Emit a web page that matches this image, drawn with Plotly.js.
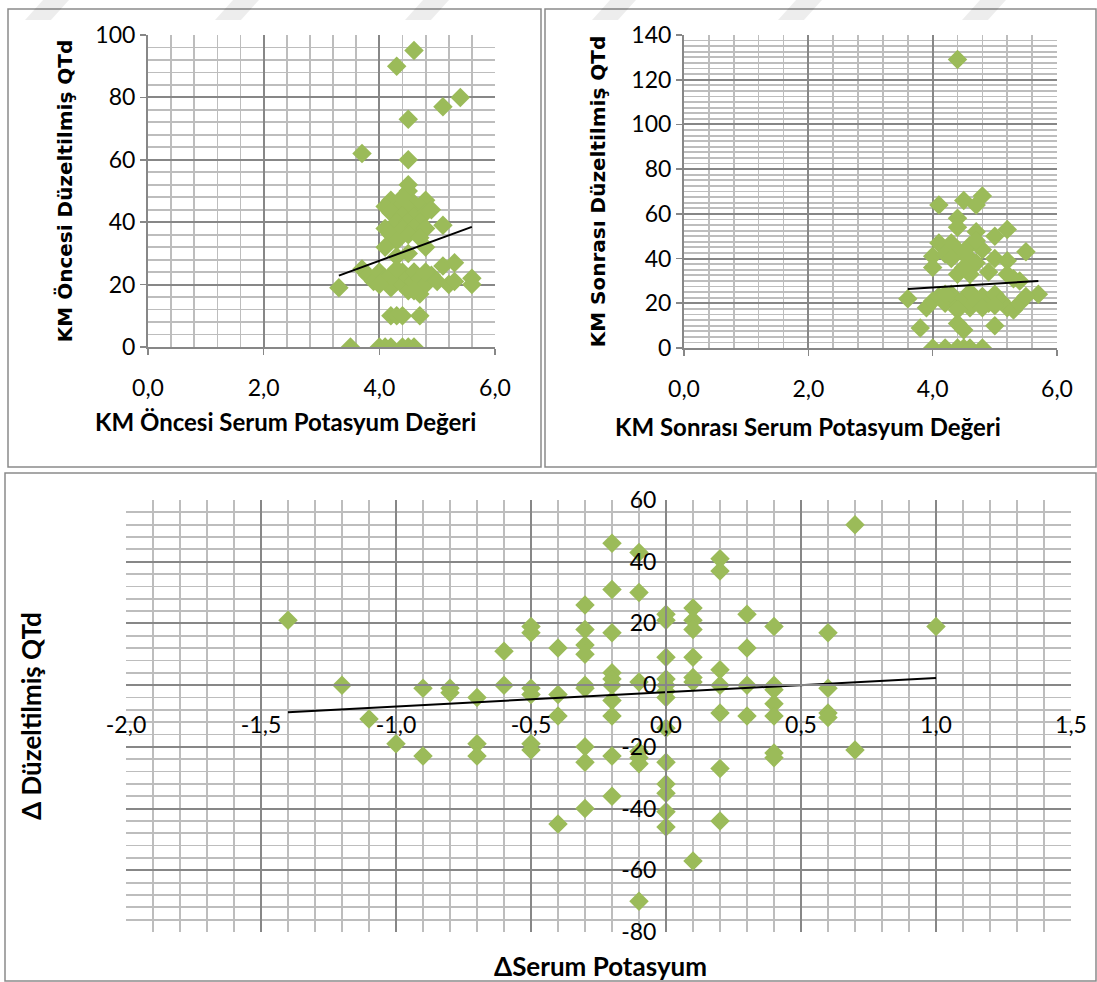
<!DOCTYPE html>
<html><head><meta charset="utf-8">
<script src="https://cdn.plot.ly/plotly-3.0.1.min.js"></script>
<style>html,body{margin:0;padding:0;background:#fff}#chart{width:1097px;height:982px}</style>
</head><body><div id="chart"></div>
<script>
// ---------- DATA ----------
// KM öncesi: serum potasyum vs düzeltilmiş QTd
const preK = [4.6,4.3,5.4,5.1,4.5,3.7,4.5,4.5,4.5,
  4.2,4.8,4.1,4.3,4.4,4.6,4.7,4.5,4.2,4.4,4.6,4.8,4.3,4.5,4.7,4.1,4.4,4.6,4.8,4.2,4.5,4.7,4.3,5.1,4.9,4.4,
  4.1,4.8,4.5,4.3,
  3.7,5.1,5.3,3.3,3.8,3.9,4.0,4.1,4.2,4.2,4.3,4.4,4.4,4.5,4.5,4.6,4.6,4.7,4.7,4.8,4.9,5.0,5.2,5.3,5.6,5.6,4.0,4.3,4.6,4.8,
  4.2,4.3,4.4,4.7,
  3.5,4.0,4.1,4.2,4.4,4.5,4.6];
const preQTd = [95,90,80,77,73,62,60,52,50,
  47,47,45,45,46,46,45,44,43,42,42,43,40,40,40,38,38,38,38,36,36,35,34,39,44,48,
  32,32,30,29,
  25,26,27,19,23,21,24,22,19,23,21,24,20,22,18,21,24,17,22,20,23,21,20,21,22,20,20,25,18,24,
  10,10,10,10,
  0,0,0,0,0,0,0];
const preTrend = {slope: 6.8, intercept: 0.43};

// KM sonrası
const postK = [4.4,4.1,4.5,4.8,4.7,4.4,4.4,5.2,5.0,4.7,5.5,4.1,4.3,4.0,4.0,4.4,4.6,4.6,4.8,4.5,4.2,4.7,5.0,5.2,4.4,4.6,4.9,5.2,5.4,5.3,4.5,4.7,4.3,
  3.6,5.7,3.9,4.0,4.1,4.2,4.3,4.4,4.5,4.6,4.6,4.7,4.8,4.9,5.0,5.1,5.2,5.3,5.4,5.5,4.4,4.8,4.2,5.0,
  3.8,4.4,4.5,5.0,
  4.0,4.2,4.4,4.5,4.6,4.8];
const postQTd = [129,64,66,68,64,58,54,53,50,52,43,47,47,41,36,44,46,40,44,42,42,38,40,39,33,33,34,33,30,31,36,48,40,
  22,24,18,21,23,20,24,19,22,25,18,21,23,20,24,21,18,17,20,23,17,18,24,19,
  9,11,8,10,
  0,0,0,0,0,0];
const postTrend = {slope: 1.7, intercept: 20.3};

// Δ değerler
const deltaK = [-1.4,-1.2,-1.1,-1.0,-0.9,-0.9,-0.8,-0.8,-0.7,-0.7,-0.7,-0.6,-0.6,
  -0.5,-0.5,-0.5,-0.5,-0.5,-0.5,-0.4,-0.4,-0.4,-0.4,
  -0.3,-0.3,-0.3,-0.3,-0.3,-0.3,-0.3,-0.3,-0.3,
  -0.2,-0.2,-0.2,-0.2,-0.2,-0.2,-0.2,-0.2,-0.2,-0.2,
  -0.1,-0.1,-0.1,-0.1,-0.1,-0.1,-0.1,
  0,0,0,0,0,0,0,0,0,0,0,0,0,
  0.1,0.1,0.1,0.1,0.1,0.1,0.1,
  0.2,0.2,0.2,0.2,0.2,0.2,0.2,
  0.3,0.3,0.3,0.3,
  0.4,0.4,0.4,0.4,0.4,0.4,0.4,
  0.6,0.6,0.6,0.6,0.7,0.7,1.0];
const deltaQTd = [21,0,-11,-19,-1,-23,-1,-2.5,-4,-19,-23,11,0,
  19,17,-1,-3,-19,-21,12,-3,-10,-45,
  26,18,13,10,0,-20,-25,-40,-1,
  46,31,17,4,2,0,-5,-10,-23,-36,
  43,30,1,-21.5,-23.5,-25.5,-70,
  23,21,9,2,0,-2,-4,-14,-25,-32,-35,-41,-46,
  25,21,18,9,1,2.5,-57,
  41,37,5,0,-9,-27,-44,
  23,12,0,-10,
  19,0,-1.5,-6,-10,-22,-23.5,
  17,-1,-9,-10.5,52,-21,19];
const deltaTrend = {slope: 4.63, intercept: -2.3};

// tick labels
const tickKVals = [0,2,4,6];
const tickKText = ['0,0','2,0','4,0','6,0'];
const tickPreVals = [0,20,40,60,80,100];
const tickPostVals = [0,20,40,60,80,100,120,140];
const tickDKVals = [-2,-1.5,-1,-0.5,0,0.5,1,1.5];
const tickDKText = ['-2,0','-1,5','-1,0','-0,5','0,0','0,5','1,0','1,5'];
const tickDQVals = [-80,-60,-40,-20,0,20,40,60];
const tickDQText = ['-80','-60','-40','-20','0','20','40','60'];

// ---------- LAYOUT HELPERS ----------
const W = 1097, H = 982;
const px = v => v / W;
const py = v => 1 - v / H;
const GREEN = '#9BBB59';
const MAJ = '#878787', MIN = '#BDBDBD';
const TICKFONT = {family: 'Lato, Calibri, "Open Sans", sans-serif', size: 23, color: '#000'};
const XTITLEFONT = {family: 'Lato, Calibri, sans-serif', size: 24, color: '#000', weight: 'bold'};
const BTITLEFONT = {family: 'Lato, Calibri, sans-serif', size: 26, color: '#000', weight: 'bold'};
const YTITLEFONT = {family: '"DejaVu Sans", Verdana, sans-serif', size: 20, color: '#000', weight: 'bold'};

function trendLine(xs, t, xa, ya) {
  const lo = Math.min(...xs), hi = Math.max(...xs);
  return {x: [lo, hi], y: [t.intercept + t.slope * lo, t.intercept + t.slope * hi],
    mode: 'lines', line: {color: '#000', width: 2}, xaxis: xa, yaxis: ya,
    hoverinfo: 'skip', showlegend: false};
}
function scatter(xs, ys, xa, ya) {
  return {x: xs, y: ys, mode: 'markers', type: 'scatter', xaxis: xa, yaxis: ya,
    marker: {symbol: 'diamond', size: 15, color: GREEN, line: {width: 0}}, showlegend: false};
}

const traces = [
  scatter(preK, preQTd, 'x', 'y'), trendLine(preK, preTrend, 'x', 'y'),
  scatter(postK, postQTd, 'x2', 'y2'), trendLine(postK, postTrend, 'x2', 'y2'),
  scatter(deltaK, deltaQTd, 'x3', 'y3'), trendLine(deltaK, deltaTrend, 'x3', 'y3')
];

function minorGrid(d) {
  return {tickmode: 'linear', tick0: 0, dtick: d, showgrid: true, gridcolor: MIN, gridwidth: 1.8};
}
function baseAxis(extra) {
  return Object.assign({
    showgrid: true, gridcolor: MAJ, gridwidth: 2,
    zeroline: false, showline: true, linecolor: MAJ, linewidth: 2,
    ticks: 'outside', ticklen: 6, tickcolor: MAJ, tickwidth: 1.6,
    tickfont: TICKFONT, tickmode: 'array', fixedrange: true
  }, extra);
}

const dom3x = [px(126), px(1071)], dom3y = [py(932), py(500)];
const r3x = [-2, 1.5], r3y = [-80, 60];
const yAxis3Pos = dom3x[0] + (0 - r3x[0]) / (r3x[1] - r3x[0]) * (dom3x[1] - dom3x[0]);
const xAxis3Pos = dom3y[0] + (0 - r3y[0]) / (r3y[1] - r3y[0]) * (dom3y[1] - dom3y[0]);

// faint watermark bands at the top edge
const wmStarts = [25, 215, 405, 592, 778, 962];
const wmShapes = wmStarts.map(s => ({
  type: 'path', xref: 'paper', yref: 'paper', layer: 'above',
  path: `M ${px(s)} ${py(20)} L ${px(s + 26)} ${py(20)} L ${px(s + 44)} ${py(0)} L ${px(s + 18)} ${py(0)} Z`,
  fillcolor: 'rgba(0,0,0,0.07)', line: {width: 0}
}));

const layout = {
  width: W, height: H, margin: {l: 0, r: 0, t: 0, b: 0},
  paper_bgcolor: '#fff', plot_bgcolor: '#fff', showlegend: false,
  xaxis: baseAxis({domain: [px(148), px(495)], range: [0, 6], anchor: 'y',
    tickvals: tickKVals, ticktext: tickKText, ticklabelstandoff: 13, minor: minorGrid(0.4)}),
  yaxis: baseAxis({domain: [py(347), py(35)], range: [0, 100], anchor: 'x',
    tickvals: tickPreVals, ticktext: tickPreVals.map(String), minor: minorGrid(4),
    title: {text: 'KM Öncesi Düzeltilmiş QTd', font: YTITLEFONT, standoff: 17}}),
  xaxis2: baseAxis({domain: [px(684), px(1057)], range: [0, 6], anchor: 'y2',
    tickvals: tickKVals, ticktext: tickKText, ticklabelstandoff: 13, minor: minorGrid(0.4)}),
  yaxis2: baseAxis({domain: [py(348), py(35)], range: [0, 140], anchor: 'x2',
    tickvals: tickPostVals, ticktext: tickPostVals.map(String), minor: minorGrid(2.5),
    title: {text: 'KM Sonrası Düzeltilmiş QTd', font: YTITLEFONT, standoff: 20}}),
  xaxis3: baseAxis({domain: dom3x, range: r3x, anchor: 'free', position: xAxis3Pos,
    ticks: '', ticklabelstandoff: 19, tickvals: tickDKVals, ticktext: tickDKText, minor: minorGrid(0.1)}),
  yaxis3: baseAxis({domain: dom3y, range: r3y, anchor: 'free', position: yAxis3Pos,
    ticks: '', ticklabelstandoff: 4, tickvals: tickDQVals, ticktext: tickDQText, minor: minorGrid(4)}),
  annotations: [
    {text: 'KM Öncesi Serum Potasyum Değeri', xref: 'paper', yref: 'paper', x: px(285), y: py(421),
      showarrow: false, font: XTITLEFONT, xanchor: 'center', yanchor: 'middle'},
    {text: 'KM Sonrası Serum Potasyum Değeri', xref: 'paper', yref: 'paper', x: px(808), y: py(426),
      showarrow: false, font: XTITLEFONT, xanchor: 'center', yanchor: 'middle'},
    {text: 'ΔSerum Potasyum', xref: 'paper', yref: 'paper', x: px(600), y: py(966),
      showarrow: false, font: BTITLEFONT, xanchor: 'center', yanchor: 'middle'},
    {text: 'Δ Düzeltilmiş QTd', xref: 'paper', yref: 'paper', x: px(31), y: py(716),
      showarrow: false, font: BTITLEFONT, textangle: -90, xanchor: 'center', yanchor: 'middle'}
  ],
  shapes: [
    {type: 'rect', xref: 'paper', yref: 'paper', x0: px(8), x1: px(541), y0: py(467), y1: py(9),
      line: {color: '#8A8A8A', width: 1.5}, layer: 'below'},
    {type: 'rect', xref: 'paper', yref: 'paper', x0: px(545), x1: px(1096), y0: py(467), y1: py(9),
      line: {color: '#8A8A8A', width: 1.5}, layer: 'below'},
    {type: 'rect', xref: 'paper', yref: 'paper', x0: px(5), x1: px(1096), y0: py(981), y1: py(473),
      line: {color: '#8A8A8A', width: 1.5}, layer: 'below'}
  ].concat(wmShapes)
};

Plotly.newPlot('chart', traces, layout, {staticPlot: true, displayModeBar: false});
</script>
</body></html>
